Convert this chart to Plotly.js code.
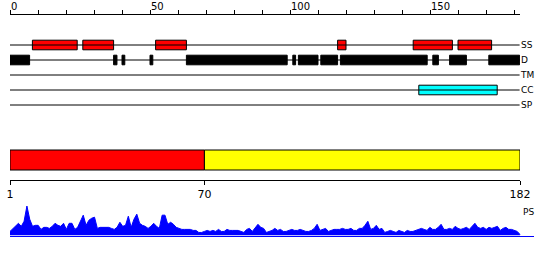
<!DOCTYPE html>
<html><head><meta charset="utf-8">
<script src="https://cdn.plot.ly/plotly-3.0.1.min.js"></script>
<style>html,body{margin:0;padding:0;background:#fff}#chart{width:550px;height:260px}</style>
</head><body><div id="chart"></div>
<script>
// ---- data ----
const seqLength = 182;
const trackNames = ['SS', 'D', 'TM', 'CC', 'SP'];
const ssStarts = [8, 26, 52, 117, 144, 160];
const ssEnds   = [24, 37, 63, 120, 158, 172];
const disStarts = [0, 37, 40, 50, 63, 101, 103, 111, 118, 151, 157, 171];
const disEnds   = [7, 38.2, 41, 51, 99, 102, 110, 117, 149, 153, 163, 182];
const tmStarts = [];
const tmEnds = [];
const ccStarts = [146];
const ccEnds   = [174];
const spStarts = [];
const spEnds = [];
const regionStarts = [1, 70];
const regionEnds   = [70, 182];
const regionTicks = [1, 70, 182];
const rulerTicks = [0, 50, 100, 150];
const psValues = [
  4,7,10,12,9,14,29,16,9,10,
  10,6,8,8,7,9,12,10,9,12,
  6,12,12,6,8,14,20,10,15,17,
  18,7,8,8,8,8,7,6,8,13,
  9,10,19,8,16,21,12,10,9,7,
  9,12,9,7,20,20,11,13,11,8,
  7,6,6,6,6,5,5,3,3,4,
  5,4,5,4,6,4,4,6,5,5,
  5,5,4,3,6,7,4,8,11,8,
  7,3,4,5,7,5,6,4,4,5,
  6,5,5,6,5,4,4,5,7,11,
  5,6,7,4,5,6,6,6,7,6,
  6,7,5,5,7,7,10,14,6,7,
  10,6,7,3,4,5,4,3,5,4,
  3,5,4,4,5,6,7,6,5,8,
  6,6,8,11,6,6,7,6,9,7,
  6,7,8,6,9,12,8,7,8,6,
  8,7,8,9,5,7,8,6,6,5,
  4,1
];

// ---- geometry helpers (pixels -> paper) ----
const W = 550, H = 260, ML = 10;
const PW = W - ML;
const px = p => (p - ML) / PW;
const py = p => 1 - p / H;

const FONT = 'DejaVu Sans';
const traces = [];

// track base lines
trackNames.forEach((name, i) => {
  traces.push({type: 'scatter', mode: 'lines', x: [0, seqLength], y: [i, i],
    line: {color: '#000', width: 1}, xaxis: 'x', yaxis: 'y', hoverinfo: 'skip', showlegend: false});
});

function boxTrace(starts, ends, row, fill) {
  return {type: 'bar', orientation: 'h', base: starts, x: ends.map((e, k) => e - starts[k]),
    y: starts.map(() => row), width: 0.64,
    marker: {color: fill, line: {color: '#000', width: 1}},
    xaxis: 'x', yaxis: 'y', hoverinfo: 'skip', showlegend: false};
}
traces.push(boxTrace(ssStarts, ssEnds, 0, '#ff0000'));
traces.push(boxTrace(disStarts, disEnds, 1, '#000000'));
traces.push(boxTrace(tmStarts, tmEnds, 2, '#0000ff'));
traces.push(boxTrace(ccStarts, ccEnds, 3, '#00ffff'));
traces.push(boxTrace(spStarts, spEnds, 4, '#00ff00'));

// region bar
traces.push({type: 'bar', orientation: 'h', base: regionStarts,
  x: regionEnds.map((e, k) => e - regionStarts[k]), y: regionStarts.map(() => 0), width: 1,
  marker: {color: ['#ff0000', '#ffff00'], line: {color: '#000', width: 1}},
  xaxis: 'x2', yaxis: 'y2', hoverinfo: 'skip', showlegend: false});

// PS profile
traces.push({type: 'scatter', mode: 'lines', x: psValues.map((v, i) => i + 1), y: psValues,
  fill: 'tozeroy', fillcolor: '#0000ff', line: {color: '#0000ff', width: 1},
  xaxis: 'x3', yaxis: 'y3', hoverinfo: 'skip', showlegend: false});

const scale2 = 510 / (seqLength - 1);
const layout = {
  width: W, height: H,
  margin: {l: ML, r: 0, t: 0, b: 0, pad: 0},
  paper_bgcolor: '#fff', plot_bgcolor: 'rgba(0,0,0,0)',
  showlegend: false, barmode: 'overlay',
  font: {family: FONT, color: '#000'},
  xaxis: {domain: [0, 510 / PW], range: [0, 510 / 2.8], anchor: 'y', side: 'top',
    showline: true, linecolor: '#000', linewidth: 1, showgrid: false, zeroline: false,
    ticks: 'outside', ticklen: 4, tickcolor: '#000', tickwidth: 1,
    tickvals: rulerTicks, ticktext: rulerTicks.map(String),
    minor: {dtick: 10, tick0: 0, ticks: 'outside', ticklen: 4, tickcolor: '#000', tickwidth: 1, showgrid: false},
    ticklabelposition: 'outside right',
    tickfont: {family: FONT, size: 10, color: '#000'}, fixedrange: true},
  yaxis: {domain: [py(115), py(15)], range: [4 + 2 / 3, -2], anchor: 'x', side: 'right',
    showgrid: false, zeroline: false, showline: false, ticks: '',
    tickvals: trackNames.map((n, i) => i), ticktext: trackNames,
    tickfont: {family: FONT, size: 9, color: '#000'}, fixedrange: true},
  xaxis2: {domain: [0, 510 / PW], range: [1, seqLength], anchor: 'y2', side: 'bottom',
    showline: true, linecolor: '#000', linewidth: 1, showgrid: false, zeroline: false,
    ticks: 'outside', ticklen: 4, tickcolor: '#000',
    tickvals: regionTicks, ticktext: regionTicks.map(String),
    tickfont: {family: FONT, size: 11, color: '#000'}, fixedrange: true},
  yaxis2: {domain: [py(180), py(145)], range: [-1, 0.75], visible: false, fixedrange: true},
  xaxis3: {domain: [0, 524 / PW], range: [1, 1 + 524 / scale2], anchor: 'y3',
    showline: true, linecolor: '#0000ff', linewidth: 1, showgrid: false, zeroline: false,
    ticks: '', showticklabels: false, fixedrange: true},
  yaxis3: {domain: [py(235.5), py(205)], range: [0, 30], visible: false, fixedrange: true},
  annotations: [{text: 'PS', xref: 'paper', yref: 'paper', x: px(520.5), y: py(211.5),
    xanchor: 'left', yanchor: 'middle', showarrow: false,
    font: {family: FONT, size: 9, color: '#000'}}]
};

Plotly.newPlot('chart', traces, layout, {staticPlot: true, displayModeBar: false});
</script></body></html>
